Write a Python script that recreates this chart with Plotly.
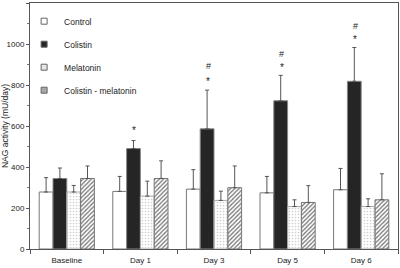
import plotly.graph_objects as go

categories = ["Baseline", "Day 1", "Day 3", "Day 5", "Day 6"]
series_names = ["Control", "Colistin", "Melatonin", "Colistin - melatonin"]
control = [278, 281, 292, 274, 289]
control_err = [70, 73, 95, 80, 104]
colistin = [344, 490, 586, 723, 818]
colistin_err = [51, 39, 189, 124, 165]
melatonin = [278, 258, 237, 207, 207]
melatonin_err = [32, 73, 45, 33, 38]
col_mel = [344, 344, 299, 227, 240]
col_mel_err = [61, 86, 106, 82, 127]

# significance markers above colistin bars
star_cats = ["Day 1", "Day 3", "Day 5", "Day 6"]
star_y = [579, 815, 885, 1020]
hash_cats = ["Day 3", "Day 5", "Day 6"]
hash_y = [893, 953, 1086]

y_ticks = [0, 200, 400, 600, 800, 1000, 1200]
divider_ticks = [-0.5, 0.5, 1.5, 2.5, 3.5, 4.5]

FONT = "Liberation Sans, Arial, sans-serif"

styles = [
    dict(color="white", line=dict(color="#777777", width=1)),
    dict(color="#252525", line=dict(color="#888888", width=1)),
    dict(color="#e6e6e6", line=dict(color="#aaaaaa", width=1),
         pattern=dict(shape=".", fgcolor="#d0d0d0", size=3, solidity=0.25)),
    dict(color="#b0b0b0", line=dict(color="#777777", width=1),
         pattern=dict(shape="/", fgcolor="#707070", size=3, solidity=0.4)),
]
legend_colors = ["white", "#252525", "#e6e6e6", "#a8a8a8"]
values = [control, colistin, melatonin, col_mel]
errs = [control_err, colistin_err, melatonin_err, col_mel_err]

fig = go.Figure()
for i, (name, v, e, st) in enumerate(zip(series_names, values, errs, styles)):
    fig.add_trace(go.Bar(
        x=categories, y=v, name=name, marker=st, showlegend=False,
        error_y=dict(type="data", array=e, arrayminus=[0]*len(e), symmetric=False,
                     color="#555555", thickness=1, width=2),
    ))
# small square legend markers
for name, c in zip(series_names, legend_colors):
    fig.add_trace(go.Scatter(
        x=[None], y=[None], mode="markers", name=name, legendgroup=name,
        marker=dict(symbol="square", size=6, color=c, line=dict(color="#666", width=1)),
    ))

for c, yv in zip(star_cats, star_y):
    fig.add_annotation(x=c, y=yv, text="*", showarrow=False, xshift=-6,
                       font=dict(size=10, color="#222", family=FONT), yanchor="middle")
for c, yv in zip(hash_cats, hash_y):
    fig.add_annotation(x=c, y=yv, text="#", showarrow=False, xshift=-6,
                       font=dict(size=9, color="#222", family=FONT), yanchor="middle")

fig.add_trace(go.Scatter(x=[0.5], y=[-100], xaxis="x2", showlegend=False, mode="markers",
                         hoverinfo="skip"))

fig.update_layout(
    template="none",
    width=400, height=268, autosize=False,
    margin=dict(l=30, r=2, t=3, b=19, pad=0, autoexpand=False),
    paper_bgcolor="white", plot_bgcolor="white",
    barmode="group", bargap=0.25, bargroupgap=0,
    font=dict(family=FONT, size=8, color="#222"),
    legend=dict(x=-0.016, y=0.985, xanchor="left", yanchor="top",
                bgcolor="rgba(0,0,0,0)", font=dict(size=8.5, family=FONT),
                tracegroupgap=4, itemwidth=30),
    xaxis=dict(showline=True, linecolor="#555", linewidth=1, mirror=True,
               ticks="", showgrid=False, tickfont=dict(size=8), automargin=False,
               ticklabelstandoff=3),
    yaxis=dict(range=[0, 1200], tickvals=y_ticks, showline=True, linecolor="#555",
               linewidth=1, mirror=True, ticks="outside", ticklen=3, tickcolor="#555",
               showgrid=False, zeroline=False, tickfont=dict(size=8), automargin=False,
               minor=dict(dtick=100, ticks="outside", ticklen=2, tickcolor="#777", showgrid=False),
               title=dict(text="NAG activity (mU/day)", font=dict(size=8.5), standoff=2)),
    xaxis2=dict(overlaying="x", range=[-0.5, 4.5], tickvals=divider_ticks,
                ticks="outside", ticklen=4, tickcolor="#555", showticklabels=False,
                showgrid=False, showline=False, side="bottom", zeroline=False,
                automargin=False),
)

fig.write_html("out.html", config={"displayModeBar": False},
               post_script="document.body.style.margin='0';")
